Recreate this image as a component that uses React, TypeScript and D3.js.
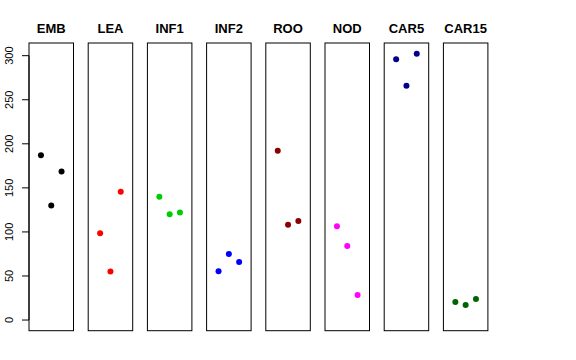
import React from "react";
import * as d3 from "d3";

const categories = ["EMB", "LEA", "INF1", "INF2", "ROO", "NOD", "CAR5", "CAR15"];
const colors = ["#000000", "#FF0000", "#00CD00", "#0000FF", "#8B0000", "#FF00FF", "#00008B", "#006400"];
const rep1 = [187, 98.5, 140, 55.5, 192, 106.5, 296, 20.5];
const rep2 = [130, 55, 120, 75, 108, 84, 266, 17];
const rep3 = [168.5, 145.5, 122, 66, 112.5, 28.5, 302.3, 23.8];
const yTicks = [0, 50, 100, 150, 200, 250, 300];

export default function App() {
  const W = 576, H = 360;
  const top = 43, bottom = 330.7;
  const left0 = 29, panelW = 44.5, step = 59.2;
  const ymax = d3.max([...rep1, ...rep2, ...rep3]) as number;
  const ext = ymax * 0.04;
  const y = d3.scaleLinear().domain([-ext, ymax + ext]).range([bottom, top]);
  const panels = d3.range(categories.length);
  return (
    <svg width={W} height={H} style={{ position: "absolute", left: 0, top: 0, background: "#fff" }}>
      {panels.map((i) => {
        const x0 = left0 + i * step;
        const x = d3.scaleLinear().domain([-0.16, 4.16]).range([x0, x0 + panelW]);
        const vals = [rep1[i], rep2[i], rep3[i]];
        return (
          <g key={categories[i]}>
            <rect x={x0} y={top} width={panelW} height={bottom - top} fill="none" stroke="#000" strokeWidth={1} />
            <text x={x0 + panelW / 2} y={33.3} textAnchor="middle" fontFamily="Liberation Sans, Arial, sans-serif" fontWeight="bold" fontSize={13}>
              {categories[i]}
            </text>
            {vals.map((v, j) => (
              <circle key={j} cx={x(j + 1)} cy={y(v)} r={3} fill={colors[i]} />
            ))}
          </g>
        );
      })}
      <g>
        <line x1={left0} x2={left0} y1={y(0)} y2={y(300)} stroke="#000" />
        {yTicks.map((t) => (
          <g key={t}>
            <line x1={left0 - 7} x2={left0} y1={y(t)} y2={y(t)} stroke="#000" />
            <text
              transform={`translate(13.3,${y(t)}) rotate(-90)`}
              textAnchor="middle"
              fontFamily="Liberation Sans, Arial, sans-serif"
              fontSize={11}
            >
              {t}
            </text>
          </g>
        ))}
      </g>
    </svg>
  );
}
